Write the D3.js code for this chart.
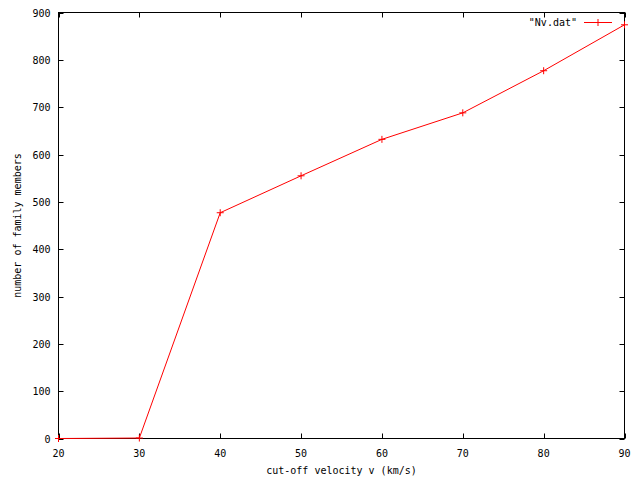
<!DOCTYPE html>
<html><head><meta charset="utf-8">
<script src="https://cdn.jsdelivr.net/npm/d3@7"></script>
<style>body{margin:0;background:#fff}svg{display:block}text{font-family:"DejaVu Sans Mono",monospace;font-size:10px;fill:#000}</style>
</head><body><svg id="c" width="640" height="480"></svg>
<script>
const velocities = [20, 30, 40, 50, 60, 70, 80, 90];
const members = [0, 1, 477, 555, 632, 688, 777, 874];
const xTicks = [20, 30, 40, 50, 60, 70, 80, 90];
const yTicks = [0, 100, 200, 300, 400, 500, 600, 700, 800, 900];
const seriesName = '"Nv.dat"';
const xTitle = "cut-off velocity v (km/s)";
const yTitle = "number of family members";

const svg = d3.select("#c");
const L = 58.5, R = 624.5, T = 12.5, B = 438.5;
const x = d3.scaleLinear().domain([20, 90]).range([L, R]);
const y = d3.scaleLinear().domain([0, 900]).range([B, T]);
const tl = 5;

const g = svg.append("g");
// ticks (inward, mirrored)
xTicks.forEach(v => {
  const px = Math.round(x(v)) + 0.5;
  g.append("line").attr("x1", px).attr("x2", px).attr("y1", B).attr("y2", B - tl).attr("stroke", "#000");
  g.append("line").attr("x1", px).attr("x2", px).attr("y1", T).attr("y2", T + tl).attr("stroke", "#000");
  g.append("text").attr("x", x(v)).attr("y", B + 18).attr("text-anchor", "middle").text(v);
});
yTicks.forEach(v => {
  const py = Math.round(y(v)) + 0.5;
  g.append("line").attr("x1", L).attr("x2", L + tl).attr("y1", py).attr("y2", py).attr("stroke", "#000");
  g.append("line").attr("x1", R).attr("x2", R - tl).attr("y1", py).attr("y2", py).attr("stroke", "#000");
  g.append("text").attr("x", L - 8).attr("y", y(v) + 4).attr("text-anchor", "end").text(v);
});
g.append("rect").attr("x", L).attr("y", T).attr("width", R - L).attr("height", B - T)
  .attr("fill", "none").attr("stroke", "#000");

// series
const data = velocities.map((v, i) => [v, members[i]]);
const line = d3.line().x(d => x(d[0])).y(d => y(d[1]));
svg.append("path").datum(data).attr("d", line).attr("fill", "none").attr("stroke", "#f00").attr("stroke-width", 1);
const s = 3.5;
svg.selectAll(".pt").data(data).enter().append("path")
  .attr("d", d => { const cx = x(d[0]), cy = y(d[1]); return `M${cx-s},${cy}H${cx+s}M${cx},${cy-s}V${cy+s}`; })
  .attr("stroke", "#f00").attr("fill", "none");

// legend
svg.append("text").attr("x", 577).attr("y", 26).attr("text-anchor", "end").text(seriesName);
svg.append("line").attr("x1", 584).attr("x2", 612).attr("y1", 22.5).attr("y2", 22.5).attr("stroke", "#f00");
svg.append("path").attr("d", `M${598-s},22.5H${598+s}M598,${22.5-s}V${22.5+s}`).attr("stroke", "#f00");

// titles
svg.append("text").attr("x", (L + R) / 2).attr("y", 474).attr("text-anchor", "middle").text(xTitle);
svg.append("text").attr("transform", `translate(21,${(T + B) / 2}) rotate(-90)`).attr("text-anchor", "middle").text(yTitle);
</script></body></html>
